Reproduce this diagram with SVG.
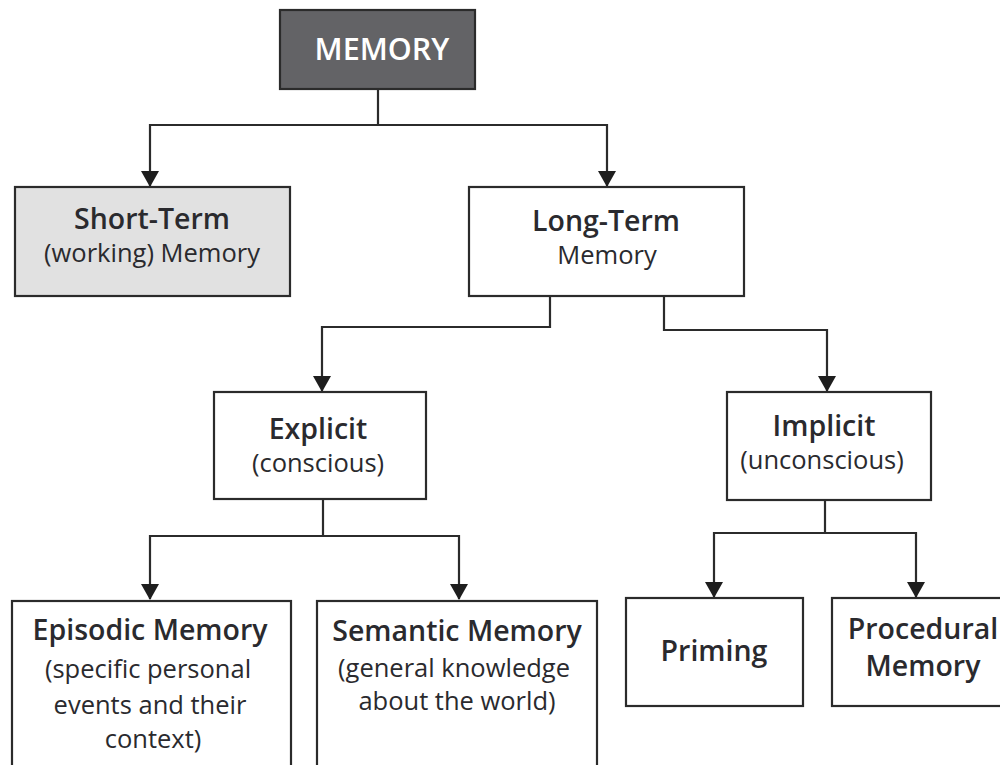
<svg xmlns="http://www.w3.org/2000/svg" width="1000" height="765" viewBox="0 0 1000 765">
<defs>
<style>
.box{fill:#ffffff;stroke:#2b2b2b;stroke-width:2.2}
.t{font-family:"Open Sans","Noto Sans",sans-serif;fill:#2a2a2e;text-anchor:middle}
.b{font-weight:600;font-size:28.5px}
.r{font-weight:400;font-size:25.5px}
.con{fill:none;stroke:#2b2b2b;stroke-width:2.2}
</style>
<marker id="ah" viewBox="0 0 16 18" refX="15" refY="9" markerWidth="16" markerHeight="18" markerUnits="userSpaceOnUse" orient="auto">
<path d="M0,0 L16,9 L0,18 z" fill="#1e1e1e"/>
</marker>
</defs>
<rect width="1000" height="765" fill="#ffffff"/>
<g id="connectors">
<path class="con" d="M378,89 V125 H150 V186" marker-end="url(#ah)"/>
<path class="con" d="M378,125 H607 V186" marker-end="url(#ah)"/>
<path class="con" d="M550,296 V327 H322 V391" marker-end="url(#ah)"/>
<path class="con" d="M664,296 V330 H827 V391" marker-end="url(#ah)"/>
<path class="con" d="M323,500 V536 H150 V599" marker-end="url(#ah)"/>
<path class="con" d="M323,536 H459 V599" marker-end="url(#ah)"/>
<path class="con" d="M825,500 V533 H714 V597" marker-end="url(#ah)"/>
<path class="con" d="M825,533 H916 V597" marker-end="url(#ah)"/>
</g>
<g id="memory">
<rect x="280" y="10" width="195" height="79" fill="#636366" stroke="#2b2b2b" stroke-width="2.2"/>
<text class="t b" x="382" y="60" style="fill:#ffffff;font-size:30.5px">MEMORY</text>
</g>
<g id="short-term">
<rect class="box" x="15" y="187" width="275" height="109" style="fill:#e1e1e1"/>
<text class="t b" x="152" y="229">Short-Term</text>
<text class="t r" x="152" y="262">(working) Memory</text>
</g>
<g id="long-term">
<rect class="box" x="469" y="187" width="275" height="109"/>
<text class="t b" x="606" y="231">Long-Term</text>
<text class="t r" x="607" y="264">Memory</text>
</g>
<g id="explicit">
<rect class="box" x="214" y="392" width="212" height="107"/>
<text class="t b" x="318" y="439">Explicit</text>
<text class="t r" x="318" y="472">(conscious)</text>
</g>
<g id="implicit">
<rect class="box" x="727" y="392" width="204" height="108"/>
<text class="t b" x="824" y="436">Implicit</text>
<text class="t r" x="822" y="469">(unconscious)</text>
</g>
<g id="episodic">
<rect class="box" x="12" y="601" width="279" height="180"/>
<text class="t b" x="150" y="640">Episodic Memory</text>
<text class="t r" x="148" y="678">(specific personal</text>
<text class="t r" x="150" y="714">events and their</text>
<text class="t r" x="153" y="748">context)</text>
</g>
<g id="semantic">
<rect class="box" x="317" y="601" width="280" height="180"/>
<text class="t b" x="457" y="641">Semantic Memory</text>
<text class="t r" x="454" y="677">(general knowledge</text>
<text class="t r" x="457" y="710">about the world)</text>
</g>
<g id="priming">
<rect class="box" x="626" y="598" width="177" height="108"/>
<text class="t b" x="714" y="661">Priming</text>
</g>
<g id="procedural">
<rect class="box" x="832" y="598" width="180" height="108"/>
<text class="t b" x="923" y="639">Procedural</text>
<text class="t b" x="923" y="676">Memory</text>
</g>
</svg>
